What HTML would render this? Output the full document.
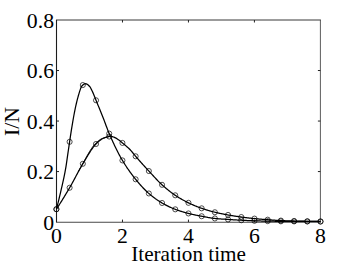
<!DOCTYPE html>
<html><head><meta charset="utf-8"><style>
html,body{margin:0;padding:0;background:#fff;}
svg{display:block}
text{font-family:"Liberation Serif",serif;font-size:21.75px;fill:#000}
</style></head><body>
<svg width="354" height="267" viewBox="0 0 354 267">
<rect width="354" height="267" fill="#fff"/>
<g stroke="#222" stroke-width="1" fill="none">
<line x1="56.0" y1="20.0" x2="320.9" y2="20.0" stroke="#383838"/>
<line x1="320.4" y1="20.0" x2="320.4" y2="222.1" stroke="#484848" stroke-width="0.9"/>
<line x1="56.5" y1="20.0" x2="56.5" y2="222.1" stroke="#1c1c1c" stroke-width="1.1"/>
<line x1="56.0" y1="222.25" x2="320.9" y2="222.25" stroke="#1a1a1a" stroke-width="0.8"/>
<line x1="122.47" y1="222.1" x2="122.47" y2="219.6"/><line x1="122.47" y1="20.0" x2="122.47" y2="22.5"/><line x1="188.45" y1="222.1" x2="188.45" y2="219.6"/><line x1="188.45" y1="20.0" x2="188.45" y2="22.5"/><line x1="254.42" y1="222.1" x2="254.42" y2="219.6"/><line x1="254.42" y1="20.0" x2="254.42" y2="22.5"/><line x1="56.5" y1="171.57" x2="59.0" y2="171.57"/><line x1="320.4" y1="171.57" x2="317.9" y2="171.57"/><line x1="56.5" y1="121.05" x2="59.0" y2="121.05"/><line x1="320.4" y1="121.05" x2="317.9" y2="121.05"/><line x1="56.5" y1="70.53" x2="59.0" y2="70.53"/><line x1="320.4" y1="70.53" x2="317.9" y2="70.53"/>
</g>
<g stroke="#000" stroke-width="1.25" fill="none" stroke-linejoin="round">
<path d="M56.40,209.20 L56.90,207.29 L57.40,205.34 L57.90,203.36 L58.40,201.35 L58.90,199.31 L59.40,197.24 L59.90,195.14 L60.40,193.02 L60.90,190.86 L61.40,188.69 L61.90,186.54 L62.40,184.37 L62.90,182.19 L63.40,179.95 L63.90,177.63 L64.40,175.21 L64.90,172.67 L65.40,169.98 L65.90,167.04 L66.40,163.81 L66.90,160.40 L67.40,156.89 L67.90,153.38 L68.40,149.97 L68.90,146.60 L69.40,143.19 L69.91,139.79 L70.41,136.42 L70.91,133.13 L71.41,129.96 L71.91,126.88 L72.41,123.85 L72.91,120.88 L73.41,118.00 L73.91,115.24 L74.41,112.62 L74.91,110.13 L75.41,107.73 L75.91,105.43 L76.41,103.24 L76.91,101.16 L77.41,99.19 L77.91,97.32 L78.41,95.52 L78.91,93.81 L79.41,92.19 L79.91,90.67 L80.41,89.13 L80.91,87.68 L81.41,86.62 L81.91,86.01 L82.41,85.46 L82.91,84.96 L83.41,84.53 L83.91,84.18 L84.41,83.92 L84.91,83.76 L85.41,83.70 L85.91,83.76 L86.41,83.91 L86.91,84.15 L87.41,84.46 L87.91,84.83 L88.41,85.26 L88.91,85.72 L89.41,86.21 L89.91,86.74 L90.41,87.50 L90.91,88.44 L91.41,89.48 L91.91,90.52 L92.41,91.55 L92.91,92.63 L93.41,93.76 L93.91,94.93 L94.41,96.16 L94.91,97.46 L95.41,98.76 L95.91,100.04 L96.42,101.28 L96.92,102.50 L97.42,103.71 L97.92,104.92 L98.42,106.12 L98.92,107.33 L99.42,108.54 L99.92,109.76 L100.42,110.99 L100.92,112.23 L101.42,113.46 L101.92,114.71 L102.42,115.96 L102.92,117.22 L103.42,118.49 L103.92,119.79 L104.42,121.11 L104.92,122.46 L105.42,123.83 L105.92,125.19 L106.42,126.51 L106.92,127.83 L107.42,129.15 L107.92,130.45 L108.42,131.71 L108.92,132.91 L109.42,134.07 L109.92,135.23 L110.42,136.37 L110.92,137.50 L111.42,138.63 L111.92,139.74 L112.42,140.85 L112.92,141.94 L113.42,143.03 L113.92,144.10 L114.42,145.16 L114.92,146.21 L115.42,147.25 L115.92,148.28 L116.42,149.29 L116.92,150.30 L117.42,151.29 L117.92,152.26 L118.42,153.23 L118.92,154.17 L119.42,155.11 L119.92,156.03 L120.42,156.94 L120.92,157.83 L121.42,158.70 L121.92,159.56 L122.43,160.41 L122.93,161.24 L123.43,162.06 L123.93,162.88 L124.43,163.68 L124.93,164.47 L125.43,165.25 L125.93,166.02 L126.43,166.78 L126.93,167.53 L127.43,168.28 L127.93,169.01 L128.43,169.73 L128.93,170.45 L129.43,171.16 L129.93,171.86 L130.43,172.55 L130.93,173.23 L131.43,173.91 L131.93,174.57 L132.43,175.23 L132.93,175.89 L133.43,176.53 L133.93,177.17 L134.43,177.80 L134.93,178.43 L135.43,179.05 L135.93,179.66 L136.43,180.27 L136.93,180.87 L137.43,181.47 L137.93,182.07 L138.43,182.66 L138.93,183.24 L139.43,183.82 L139.93,184.40 L140.43,184.97 L140.93,185.53 L141.43,186.09 L141.93,186.64 L142.43,187.19 L142.93,187.72 L143.43,188.25 L143.93,188.78 L144.43,189.29 L144.93,189.80 L145.43,190.30 L145.93,190.79 L146.43,191.27 L146.93,191.74 L147.43,192.21 L147.93,192.66 L148.43,193.11 L148.94,193.54 L149.44,193.97 L149.94,194.39 L150.44,194.81 L150.94,195.22 L151.44,195.63 L151.94,196.03 L152.44,196.42 L152.94,196.81 L153.44,197.20 L153.94,197.58 L154.44,197.95 L154.94,198.32 L155.44,198.69 L155.94,199.04 L156.44,199.40 L156.94,199.74 L157.44,200.09 L157.94,200.42 L158.44,200.75 L158.94,201.08 L159.44,201.40 L159.94,201.71 L160.44,202.02 L160.94,202.33 L161.44,202.63 L161.94,202.92 L162.44,203.21 L162.94,203.49 L163.44,203.77 L163.94,204.05 L164.44,204.32 L164.94,204.59 L165.44,204.86 L165.94,205.12 L166.44,205.38 L166.94,205.64 L167.44,205.89 L167.94,206.14 L168.44,206.38 L168.94,206.63 L169.44,206.86 L169.94,207.10 L170.44,207.33 L170.94,207.55 L171.44,207.77 L171.94,207.99 L172.44,208.21 L172.94,208.42 L173.44,208.62 L173.94,208.82 L174.44,209.02 L174.94,209.22 L175.45,209.40 L175.95,209.59 L176.45,209.77 L176.95,209.96 L177.45,210.13 L177.95,210.31 L178.45,210.48 L178.95,210.65 L179.45,210.82 L179.95,210.99 L180.45,211.15 L180.95,211.31 L181.45,211.47 L181.95,211.62 L182.45,211.77 L182.95,211.92 L183.45,212.07 L183.95,212.22 L184.45,212.36 L184.95,212.50 L185.45,212.64 L185.95,212.78 L186.45,212.92 L186.95,213.05 L187.45,213.18 L187.95,213.31 L188.45,213.44 L188.95,213.56 L189.45,213.69 L189.95,213.81 L190.45,213.93 L190.95,214.04 L191.45,214.16 L191.95,214.27 L192.45,214.39 L192.95,214.50 L193.45,214.61 L193.95,214.72 L194.45,214.82 L194.95,214.93 L195.45,215.03 L195.95,215.13 L196.45,215.24 L196.95,215.34 L197.45,215.44 L197.95,215.53 L198.45,215.63 L198.95,215.73 L199.45,215.83 L199.95,215.92 L200.45,216.02 L200.95,216.11 L201.45,216.20 L201.96,216.30 L202.46,216.39 L202.96,216.49 L203.46,216.58 L203.96,216.68 L204.46,216.77 L204.96,216.87 L205.46,216.96 L205.96,217.06 L206.46,217.15 L206.96,217.24 L207.46,217.33 L207.96,217.43 L208.46,217.51 L208.96,217.60 L209.46,217.69 L209.96,217.77 L210.46,217.85 L210.96,217.93 L211.46,218.01 L211.96,218.08 L212.46,218.15 L212.96,218.22 L213.46,218.28 L213.96,218.35 L214.46,218.40 L214.96,218.46 L215.46,218.51 L215.96,218.56 L216.46,218.60 L216.96,218.65 L217.46,218.69 L217.96,218.74 L218.46,218.78 L218.96,218.82 L219.46,218.86 L219.96,218.90 L220.46,218.94 L220.96,218.97 L221.46,219.01 L221.96,219.04 L222.46,219.08 L222.96,219.11 L223.46,219.15 L223.96,219.18 L224.46,219.21 L224.96,219.24 L225.46,219.28 L225.96,219.31 L226.46,219.34 L226.96,219.38 L227.46,219.41 L227.96,219.44 L228.47,219.47 L228.97,219.51 L229.47,219.54 L229.97,219.57 L230.47,219.61 L230.97,219.64 L231.47,219.67 L231.97,219.70 L232.47,219.73 L232.97,219.76 L233.47,219.80 L233.97,219.83 L234.47,219.86 L234.97,219.89 L235.47,219.92 L235.97,219.95 L236.47,219.98 L236.97,220.00 L237.47,220.03 L237.97,220.06 L238.47,220.09 L238.97,220.12 L239.47,220.14 L239.97,220.17 L240.47,220.20 L240.97,220.22 L241.47,220.25 L241.97,220.27 L242.47,220.30 L242.97,220.32 L243.47,220.35 L243.97,220.37 L244.47,220.40 L244.97,220.42 L245.47,220.44 L245.97,220.47 L246.47,220.49 L246.97,220.51 L247.47,220.54 L247.97,220.56 L248.47,220.58 L248.97,220.60 L249.47,220.62 L249.97,220.65 L250.47,220.67 L250.97,220.69 L251.47,220.71 L251.97,220.72 L252.47,220.74 L252.97,220.76 L253.47,220.78 L253.97,220.80 L254.48,220.81 L254.98,220.83 L255.48,220.84 L255.98,220.86 L256.48,220.87 L256.98,220.89 L257.48,220.90 L257.98,220.92 L258.48,220.93 L258.98,220.95 L259.48,220.96 L259.98,220.97 L260.48,220.99 L260.98,221.00 L261.48,221.01 L261.98,221.02 L262.48,221.04 L262.98,221.05 L263.48,221.06 L263.98,221.07 L264.48,221.08 L264.98,221.09 L265.48,221.10 L265.98,221.11 L266.48,221.12 L266.98,221.13 L267.48,221.14 L267.98,221.15 L268.48,221.16 L268.98,221.17 L269.48,221.17 L269.98,221.18 L270.48,221.19 L270.98,221.20 L271.48,221.21 L271.98,221.21 L272.48,221.22 L272.98,221.23 L273.48,221.24 L273.98,221.24 L274.48,221.25 L274.98,221.26 L275.48,221.26 L275.98,221.27 L276.48,221.28 L276.98,221.28 L277.48,221.29 L277.98,221.29 L278.48,221.30 L278.98,221.31 L279.48,221.31 L279.98,221.32 L280.48,221.32 L280.99,221.32 L281.49,221.33 L281.99,221.33 L282.49,221.34 L282.99,221.34 L283.49,221.34 L283.99,221.35 L284.49,221.35 L284.99,221.35 L285.49,221.36 L285.99,221.36 L286.49,221.36 L286.99,221.37 L287.49,221.37 L287.99,221.37 L288.49,221.38 L288.99,221.38 L289.49,221.38 L289.99,221.38 L290.49,221.39 L290.99,221.39 L291.49,221.39 L291.99,221.39 L292.49,221.40 L292.99,221.40 L293.49,221.40 L293.99,221.40 L294.49,221.41 L294.99,221.41 L295.49,221.41 L295.99,221.41 L296.49,221.41 L296.99,221.42 L297.49,221.42 L297.99,221.42 L298.49,221.42 L298.99,221.42 L299.49,221.42 L299.99,221.43 L300.49,221.43 L300.99,221.43 L301.49,221.43 L301.99,221.43 L302.49,221.43 L302.99,221.44 L303.49,221.44 L303.99,221.44 L304.49,221.44 L304.99,221.44 L305.49,221.44 L305.99,221.45 L306.49,221.45 L306.99,221.45 L307.50,221.45 L308.00,221.45 L308.50,221.45 L309.00,221.46 L309.50,221.46 L310.00,221.46 L310.50,221.46 L311.00,221.46 L311.50,221.47 L312.00,221.47 L312.50,221.47 L313.00,221.47 L313.50,221.47 L314.00,221.47 L314.50,221.48 L315.00,221.48 L315.50,221.48 L316.00,221.48 L316.50,221.48 L317.00,221.49 L317.50,221.49 L318.00,221.49 L318.50,221.49 L319.00,221.49 L319.50,221.50 L320.00,221.50 L320.50,221.50"/>
<path d="M56.40,209.20 L56.90,208.43 L57.40,207.66 L57.90,206.89 L58.40,206.11 L58.90,205.33 L59.40,204.54 L59.90,203.75 L60.40,202.96 L60.90,202.16 L61.40,201.36 L61.90,200.56 L62.40,199.75 L62.90,198.94 L63.40,198.13 L63.90,197.31 L64.40,196.49 L64.90,195.67 L65.40,194.84 L65.90,194.01 L66.40,193.18 L66.90,192.34 L67.40,191.50 L67.90,190.66 L68.40,189.81 L68.90,188.96 L69.40,188.10 L69.91,187.25 L70.41,186.38 L70.91,185.50 L71.41,184.61 L71.91,183.70 L72.41,182.79 L72.91,181.88 L73.41,180.95 L73.91,180.02 L74.41,179.09 L74.91,178.15 L75.41,177.21 L75.91,176.27 L76.41,175.33 L76.91,174.39 L77.41,173.45 L77.91,172.52 L78.41,171.59 L78.91,170.67 L79.41,169.76 L79.91,168.85 L80.41,167.95 L80.91,167.07 L81.41,166.19 L81.91,165.33 L82.41,164.48 L82.91,163.65 L83.41,162.82 L83.91,161.99 L84.41,161.15 L84.91,160.31 L85.41,159.47 L85.91,158.62 L86.41,157.78 L86.91,156.94 L87.41,156.11 L87.91,155.28 L88.41,154.45 L88.91,153.64 L89.41,152.84 L89.91,152.05 L90.41,151.27 L90.91,150.51 L91.41,149.76 L91.91,149.04 L92.41,148.33 L92.91,147.65 L93.41,146.98 L93.91,146.35 L94.41,145.74 L94.91,145.16 L95.41,144.60 L95.91,144.08 L96.42,143.58 L96.92,143.08 L97.42,142.59 L97.92,142.11 L98.42,141.65 L98.92,141.21 L99.42,140.78 L99.92,140.38 L100.42,140.00 L100.92,139.64 L101.42,139.31 L101.92,139.01 L102.42,138.74 L102.92,138.50 L103.42,138.28 L103.92,138.06 L104.42,137.86 L104.92,137.68 L105.42,137.50 L105.92,137.34 L106.42,137.19 L106.92,137.05 L107.42,136.93 L107.92,136.82 L108.42,136.71 L108.92,136.60 L109.42,136.50 L109.92,136.43 L110.42,136.40 L110.92,136.42 L111.42,136.48 L111.92,136.58 L112.42,136.71 L112.92,136.85 L113.42,137.01 L113.92,137.17 L114.42,137.35 L114.92,137.57 L115.42,137.82 L115.92,138.09 L116.42,138.40 L116.92,138.72 L117.42,139.05 L117.92,139.40 L118.42,139.74 L118.92,140.09 L119.42,140.45 L119.92,140.83 L120.42,141.24 L120.92,141.66 L121.42,142.08 L121.92,142.51 L122.43,142.94 L122.93,143.36 L123.43,143.77 L123.93,144.19 L124.43,144.60 L124.93,145.02 L125.43,145.44 L125.93,145.86 L126.43,146.28 L126.93,146.72 L127.43,147.16 L127.93,147.61 L128.43,148.07 L128.93,148.54 L129.43,149.03 L129.93,149.53 L130.43,150.05 L130.93,150.60 L131.43,151.17 L131.93,151.76 L132.43,152.37 L132.93,152.99 L133.43,153.61 L133.93,154.23 L134.43,154.85 L134.93,155.47 L135.43,156.07 L135.93,156.65 L136.43,157.23 L136.93,157.80 L137.43,158.37 L137.93,158.95 L138.43,159.52 L138.93,160.08 L139.43,160.65 L139.93,161.21 L140.43,161.78 L140.93,162.34 L141.43,162.90 L141.93,163.46 L142.43,164.02 L142.93,164.57 L143.43,165.12 L143.93,165.68 L144.43,166.23 L144.93,166.78 L145.43,167.33 L145.93,167.87 L146.43,168.42 L146.93,168.96 L147.43,169.51 L147.93,170.05 L148.43,170.59 L148.94,171.13 L149.44,171.67 L149.94,172.21 L150.44,172.76 L150.94,173.30 L151.44,173.85 L151.94,174.40 L152.44,174.94 L152.94,175.49 L153.44,176.03 L153.94,176.58 L154.44,177.12 L154.94,177.66 L155.44,178.20 L155.94,178.73 L156.44,179.26 L156.94,179.79 L157.44,180.31 L157.94,180.83 L158.44,181.34 L158.94,181.85 L159.44,182.34 L159.94,182.83 L160.44,183.32 L160.94,183.79 L161.44,184.26 L161.94,184.72 L162.44,185.17 L162.94,185.62 L163.44,186.06 L163.94,186.50 L164.44,186.94 L164.94,187.37 L165.44,187.80 L165.94,188.23 L166.44,188.65 L166.94,189.07 L167.44,189.48 L167.94,189.89 L168.44,190.30 L168.94,190.70 L169.44,191.09 L169.94,191.48 L170.44,191.87 L170.94,192.25 L171.44,192.63 L171.94,193.00 L172.44,193.36 L172.94,193.73 L173.44,194.08 L173.94,194.43 L174.44,194.77 L174.94,195.11 L175.45,195.45 L175.95,195.77 L176.45,196.10 L176.95,196.42 L177.45,196.74 L177.95,197.05 L178.45,197.36 L178.95,197.67 L179.45,197.97 L179.95,198.27 L180.45,198.56 L180.95,198.85 L181.45,199.14 L181.95,199.43 L182.45,199.71 L182.95,199.99 L183.45,200.26 L183.95,200.53 L184.45,200.80 L184.95,201.06 L185.45,201.33 L185.95,201.58 L186.45,201.84 L186.95,202.09 L187.45,202.34 L187.95,202.58 L188.45,202.83 L188.95,203.07 L189.45,203.30 L189.95,203.54 L190.45,203.77 L190.95,204.00 L191.45,204.23 L191.95,204.46 L192.45,204.68 L192.95,204.90 L193.45,205.12 L193.95,205.34 L194.45,205.55 L194.95,205.76 L195.45,205.97 L195.95,206.18 L196.45,206.38 L196.95,206.58 L197.45,206.78 L197.95,206.97 L198.45,207.17 L198.95,207.36 L199.45,207.54 L199.95,207.73 L200.45,207.91 L200.95,208.09 L201.45,208.26 L201.96,208.44 L202.46,208.61 L202.96,208.78 L203.46,208.95 L203.96,209.11 L204.46,209.28 L204.96,209.44 L205.46,209.60 L205.96,209.76 L206.46,209.91 L206.96,210.07 L207.46,210.22 L207.96,210.37 L208.46,210.52 L208.96,210.66 L209.46,210.81 L209.96,210.95 L210.46,211.09 L210.96,211.23 L211.46,211.37 L211.96,211.50 L212.46,211.63 L212.96,211.76 L213.46,211.89 L213.96,212.02 L214.46,212.14 L214.96,212.26 L215.46,212.38 L215.96,212.50 L216.46,212.62 L216.96,212.73 L217.46,212.85 L217.96,212.96 L218.46,213.07 L218.96,213.18 L219.46,213.28 L219.96,213.39 L220.46,213.49 L220.96,213.60 L221.46,213.70 L221.96,213.80 L222.46,213.90 L222.96,213.99 L223.46,214.09 L223.96,214.19 L224.46,214.28 L224.96,214.38 L225.46,214.47 L225.96,214.56 L226.46,214.65 L226.96,214.75 L227.46,214.84 L227.96,214.93 L228.47,215.01 L228.97,215.10 L229.47,215.19 L229.97,215.28 L230.47,215.36 L230.97,215.45 L231.47,215.53 L231.97,215.62 L232.47,215.70 L232.97,215.78 L233.47,215.87 L233.97,215.95 L234.47,216.03 L234.97,216.11 L235.47,216.19 L235.97,216.26 L236.47,216.34 L236.97,216.42 L237.47,216.49 L237.97,216.57 L238.47,216.64 L238.97,216.71 L239.47,216.78 L239.97,216.85 L240.47,216.92 L240.97,216.99 L241.47,217.06 L241.97,217.13 L242.47,217.20 L242.97,217.26 L243.47,217.33 L243.97,217.39 L244.47,217.46 L244.97,217.52 L245.47,217.59 L245.97,217.65 L246.47,217.71 L246.97,217.77 L247.47,217.83 L247.97,217.89 L248.47,217.95 L248.97,218.01 L249.47,218.07 L249.97,218.13 L250.47,218.18 L250.97,218.24 L251.47,218.29 L251.97,218.35 L252.47,218.40 L252.97,218.45 L253.47,218.50 L253.97,218.55 L254.48,218.60 L254.98,218.65 L255.48,218.70 L255.98,218.75 L256.48,218.79 L256.98,218.84 L257.48,218.88 L257.98,218.93 L258.48,218.97 L258.98,219.01 L259.48,219.05 L259.98,219.09 L260.48,219.14 L260.98,219.18 L261.48,219.22 L261.98,219.26 L262.48,219.30 L262.98,219.33 L263.48,219.37 L263.98,219.41 L264.48,219.45 L264.98,219.49 L265.48,219.52 L265.98,219.56 L266.48,219.60 L266.98,219.63 L267.48,219.67 L267.98,219.71 L268.48,219.75 L268.98,219.78 L269.48,219.82 L269.98,219.86 L270.48,219.90 L270.98,219.93 L271.48,219.97 L271.98,220.01 L272.48,220.04 L272.98,220.08 L273.48,220.12 L273.98,220.15 L274.48,220.19 L274.98,220.22 L275.48,220.26 L275.98,220.29 L276.48,220.32 L276.98,220.36 L277.48,220.39 L277.98,220.42 L278.48,220.45 L278.98,220.47 L279.48,220.50 L279.98,220.53 L280.48,220.55 L280.99,220.57 L281.49,220.60 L281.99,220.62 L282.49,220.64 L282.99,220.66 L283.49,220.68 L283.99,220.70 L284.49,220.71 L284.99,220.73 L285.49,220.75 L285.99,220.77 L286.49,220.78 L286.99,220.80 L287.49,220.82 L287.99,220.83 L288.49,220.85 L288.99,220.86 L289.49,220.88 L289.99,220.89 L290.49,220.91 L290.99,220.92 L291.49,220.93 L291.99,220.95 L292.49,220.96 L292.99,220.97 L293.49,220.99 L293.99,221.00 L294.49,221.01 L294.99,221.03 L295.49,221.04 L295.99,221.05 L296.49,221.07 L296.99,221.08 L297.49,221.09 L297.99,221.10 L298.49,221.12 L298.99,221.13 L299.49,221.14 L299.99,221.15 L300.49,221.16 L300.99,221.17 L301.49,221.18 L301.99,221.19 L302.49,221.21 L302.99,221.22 L303.49,221.23 L303.99,221.24 L304.49,221.25 L304.99,221.26 L305.49,221.27 L305.99,221.28 L306.49,221.29 L306.99,221.29 L307.50,221.30 L308.00,221.31 L308.50,221.32 L309.00,221.33 L309.50,221.34 L310.00,221.35 L310.50,221.36 L311.00,221.36 L311.50,221.37 L312.00,221.38 L312.50,221.39 L313.00,221.40 L313.50,221.40 L314.00,221.41 L314.50,221.42 L315.00,221.43 L315.50,221.43 L316.00,221.44 L316.50,221.45 L317.00,221.46 L317.50,221.46 L318.00,221.47 L318.50,221.48 L319.00,221.48 L319.50,221.49 L320.00,221.49 L320.50,221.50"/>
<path d="M78.41,171.59 L78.91,170.67 L79.40,169.75 L79.90,168.83 L80.39,167.92 L80.88,167.02 L81.37,166.13 L81.85,165.25 L82.34,164.38 L82.82,163.52 L83.31,162.67 L83.79,161.81 L84.27,160.95 L84.75,160.08 L85.23,159.20 L85.71,158.33 L86.20,157.46 L86.68,156.59 L87.16,155.72 L87.64,154.87 L88.12,154.02 L88.60,153.18 L89.09,152.35 L89.57,151.54 L90.06,150.74 L90.55,149.96 L91.04,149.20 L91.53,148.46 L92.02,147.74 L92.52,147.05 L93.02,146.39 L93.51,145.75 L94.02,145.14 L94.52,144.56 L95.02,144.02 L95.53,143.50 L96.04,143.01 L96.55,142.52 L97.06,142.05 L97.57,141.60 L98.09,141.16 L98.60,140.74 L99.12,140.34 L99.64,139.96 L100.16,139.60 L100.67,139.28 L101.19,138.98 L101.71,138.70 L102.23,138.46 L102.75,138.25 L103.27,138.06 L103.79,137.87 L104.31,137.70 L104.83,137.54 L105.34,137.39 L105.86,137.25 L106.37,137.12 L106.88,137.00 L107.39,136.89 L107.90,136.79 L108.41,136.70 L108.92,136.59 L109.42,136.50 L109.92,136.43" stroke-width="0.9"/>
</g>
<g stroke="#000" stroke-width="0.7" fill="none">
<circle cx="56.40" cy="209.20" r="2.55"/>
<circle cx="69.61" cy="141.83" r="2.55"/>
<circle cx="82.81" cy="85.06" r="2.55"/>
<circle cx="96.02" cy="100.29" r="2.55"/>
<circle cx="109.22" cy="133.61" r="2.55"/>
<circle cx="122.43" cy="160.41" r="2.55"/>
<circle cx="135.63" cy="179.29" r="2.55"/>
<circle cx="148.84" cy="193.46" r="2.55"/>
<circle cx="162.04" cy="202.98" r="2.55"/>
<circle cx="175.25" cy="209.33" r="2.55"/>
<circle cx="188.45" cy="213.44" r="2.55"/>
<circle cx="201.66" cy="216.24" r="2.55"/>
<circle cx="214.86" cy="218.45" r="2.55"/>
<circle cx="228.06" cy="219.45" r="2.55"/>
<circle cx="241.27" cy="220.24" r="2.55"/>
<circle cx="254.47" cy="220.81" r="2.55"/>
<circle cx="267.68" cy="221.14" r="2.55"/>
<circle cx="280.88" cy="221.32" r="2.55"/>
<circle cx="294.09" cy="221.40" r="2.55"/>
<circle cx="307.30" cy="221.45" r="2.55"/>
<circle cx="320.50" cy="221.50" r="2.55"/>
<circle cx="56.40" cy="209.20" r="2.55"/>
<circle cx="69.61" cy="187.76" r="2.55"/>
<circle cx="82.81" cy="163.81" r="2.55"/>
<circle cx="96.02" cy="143.98" r="2.55"/>
<circle cx="109.22" cy="136.54" r="2.55"/>
<circle cx="122.43" cy="142.94" r="2.55"/>
<circle cx="135.63" cy="156.30" r="2.55"/>
<circle cx="148.84" cy="171.02" r="2.55"/>
<circle cx="162.04" cy="184.81" r="2.55"/>
<circle cx="175.25" cy="195.31" r="2.55"/>
<circle cx="188.45" cy="202.83" r="2.55"/>
<circle cx="201.66" cy="208.33" r="2.55"/>
<circle cx="214.86" cy="212.24" r="2.55"/>
<circle cx="228.06" cy="214.94" r="2.55"/>
<circle cx="241.27" cy="217.03" r="2.55"/>
<circle cx="254.47" cy="218.60" r="2.55"/>
<circle cx="267.68" cy="219.69" r="2.55"/>
<circle cx="280.88" cy="220.57" r="2.55"/>
<circle cx="294.09" cy="221.00" r="2.55"/>
<circle cx="307.30" cy="221.30" r="2.55"/>
<circle cx="320.50" cy="221.50" r="2.55"/>
</g>
<text x="56.50" y="243.2" text-anchor="middle">0</text><text x="122.47" y="243.2" text-anchor="middle">2</text><text x="188.45" y="243.2" text-anchor="middle">4</text><text x="254.42" y="243.2" text-anchor="middle">6</text><text x="320.40" y="243.2" text-anchor="middle">8</text>
<text x="54.0" y="230.00" text-anchor="end">0</text><text x="54.0" y="179.47" text-anchor="end">0.2</text><text x="54.0" y="128.95" text-anchor="end">0.4</text><text x="54.0" y="78.43" text-anchor="end">0.6</text><text x="54.0" y="27.90" text-anchor="end">0.8</text>
<text x="188.6" y="260.9" text-anchor="middle" style="font-size:21.2px">Iteration time</text>
<text transform="translate(18.6,121.6) rotate(-90)" text-anchor="middle">I/N</text>
</svg>
</body></html>
